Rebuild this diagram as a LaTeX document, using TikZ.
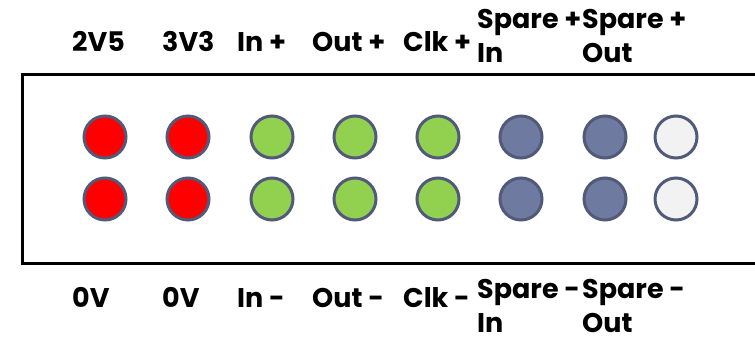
\documentclass[tikz,border=0pt]{standalone}
\usepackage{fontspec}
\setmainfont{Poppins}
\definecolor{ringc}{RGB}{82,90,122}
\definecolor{redf}{RGB}{255,0,0}
\definecolor{greenf}{RGB}{146,208,80}
\definecolor{bluef}{RGB}{111,122,160}
\definecolor{whitef}{RGB}{242,242,242}
\begin{document}
\begin{tikzpicture}[x=1pt,y=-1pt,
  pin/.style={circle,draw=ringc,line width=3pt,minimum size=42pt,inner sep=0pt},
  lbl/.style={anchor=base west,inner sep=0pt,align=left,font=\fontsize{27}{34}\selectfont\bfseries}]
\useasboundingbox (0,0) rectangle (755,337);
% box (open on the right)
\coordinate (tr) at (760,75);
\coordinate (tl) at (22,75);
\coordinate (bl) at (22,263);
\coordinate (br) at (760,263);
\draw[line width=3pt] (tr) -- (tl) -- (bl) -- (br);
% pins
\foreach \n/\x/\c in {a/105/redf,b/188/redf,c/272/greenf,d/355/greenf,e/438/greenf,f/521/bluef,g/605/bluef,h/676/whitef}{
  \node[pin,fill=\c] (\n1) at (\x,137) {};
  \node[pin,fill=\c] (\n2) at (\x,199) {};
}
% top labels
\node[lbl] (ta) at (72,52) {2V5};
\node[lbl] (tb) at (162,52) {3V3};
\node[lbl] (tc) at (237,52) {In +};
\node[lbl] (td) at (312,52) {Out +};
\node[lbl] (te) at (403,52) {Clk +};
\node[lbl] (tf) at (477,63) {Spare +\\In};
\node[lbl] (tg) at (582,63) {Spare +\\Out};
% bottom labels
\node[lbl] (ba) at (72,307) {0V};
\node[lbl] (bb) at (162,307) {0V};
\node[lbl] (bc) at (237,307) {In -};
\node[lbl] (bd) at (312,307) {Out -};
\node[lbl] (be) at (403,307) {Clk -};
\node[lbl] (bf) at (477,332) {Spare -\\In};
\node[lbl] (bg) at (582,332) {Spare -\\Out};
\end{tikzpicture}
\end{document}
